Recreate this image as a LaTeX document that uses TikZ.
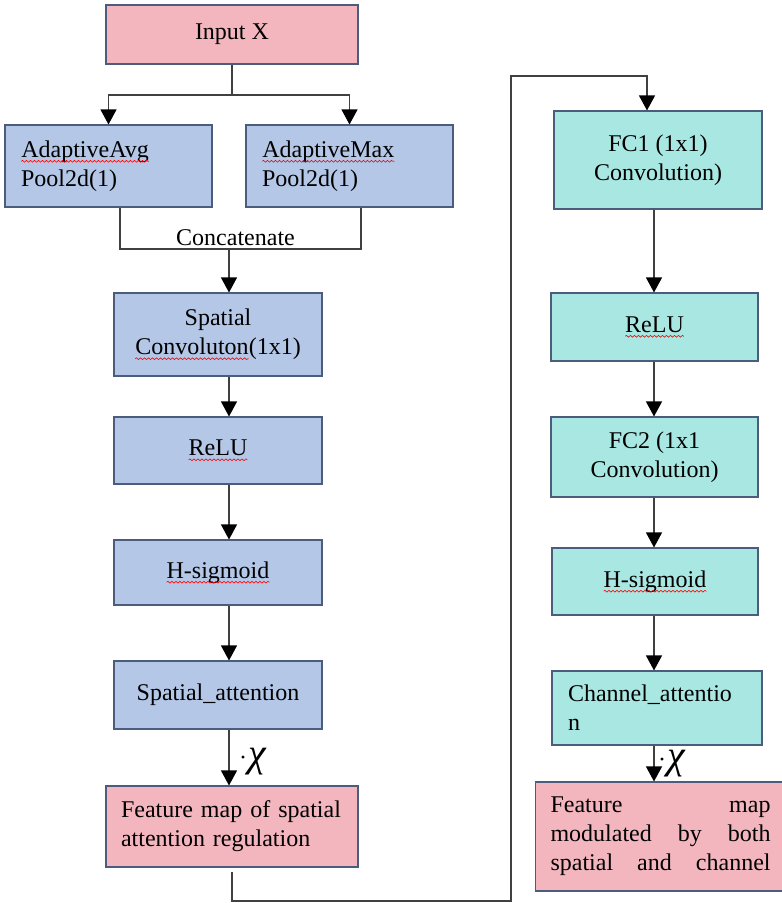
\documentclass[tikz,border=0pt]{standalone}
\usepackage{fontspec}
\setmainfont{Liberation Serif}
\usetikzlibrary{arrows.meta,decorations.pathmorphing}
\definecolor{pinkF}{HTML}{F3B6BE}
\definecolor{blueF}{HTML}{B4C7E7}
\definecolor{cyanF}{HTML}{A9E8E2}
\definecolor{bordC}{HTML}{4B5C7C}
\definecolor{lineC}{HTML}{404040}
\newcommand\sqw[1]{\tikz[baseline=(sqn.base)]{\node[inner sep=0pt,outer sep=0pt,text width=,minimum width=0pt,minimum height=0pt,align=none,draw=none,fill=none](sqn){#1};\draw[red,line width=0.6pt,decorate,decoration={snake,amplitude=0.9pt,segment length=4pt}]([yshift=-4pt]sqn.base west)--([yshift=-4pt]sqn.base east);}}
\newcommand\chisym{{\fontsize{24}{24}\selectfont\raisebox{1pt}{·}\kern1pt}{\fontsize{40}{40}\selectfont\itshape χ}}
\newcommand\jline[1]{\makebox[220pt][l]{#1}}
\begin{document}
\begin{tikzpicture}[x=1pt,y=-1pt,
  font=\fontsize{24}{29}\selectfont,
  basebox/.style={draw=bordC,line width=1.1pt,inner xsep=16pt,inner ysep=0pt,align=center},
  pbox/.style={basebox,fill=pinkF},
  bbox/.style={basebox,fill=blueF},
  cbox/.style={basebox,fill=cyanF},
  sz/.style 2 args={minimum width=#1pt,minimum height=#2pt},
  conn/.style={draw=lineC,line width=1.2pt},
  arr/.style={conn,-{Triangle[width=16pt,length=15pt,fill=black,color=black]}},
  chilab/.style={inner sep=0pt}]
\useasboundingbox (0,0) rectangle (782,903);
\clip (0,0) rectangle (782,903);
% left column
\node[pbox,sz={252}{59}] (inp) at (232,34.5) {Input X};
\node[bbox,sz={207}{82},text width=175pt,align=left] (avg) at (108.5,166) {\sqw{AdaptiveAvg}\\Pool2d(1)};
\node[bbox,sz={207}{82},text width=175pt,align=left] (max) at (349.5,166) {\sqw{AdaptiveMax}\\Pool2d(1)};
\node[bbox,sz={208}{83}] (sconv) at (218,334.5) {Spatial\\\sqw{Convoluton}(1x1)};
\node[bbox,sz={208}{67}] (relu1) at (218,450.5) {\sqw{ReLU}};
\node[bbox,sz={208}{65}] (hsig1) at (218,572.5) {\sqw{H-sigmoid}};
\node[bbox,sz={208}{68}] (satt) at (218,695) {Spatial\_attention};
\node[pbox,sz={252}{81},text width=222pt,align=left,inner xsep=15pt] (feat1) at (232,826.5) {Feature map of spatial\\attention regulation};
% right column
\node[cbox,sz={208}{98}] (fc1) at (658,160) {FC1 (1x1)\\Convolution)};
\node[cbox,sz={207}{68}] (relu2) at (654.5,327) {\sqw{ReLU}};
\node[cbox,sz={207}{80}] (fc2) at (654.5,457) {FC2 (1x1\\Convolution)};
\node[cbox,sz={206}{67}] (hsig2) at (655,581.5) {\sqw{H-sigmoid}};
\node[cbox,sz={210}{74},text width=178pt,align=left] (catt) at (657,708) {Channel\_attentio\\n};
\node[pbox,anchor=west,minimum height=109pt,text width=220pt,align=left,inner xsep=15pt] (feat2) at (535,836.5)
  {\jline{Feature\hfill map}\\\jline{modulated\hfill by\hfill both}\\\jline{spatial\hfill and\hfill channel}};
% connectors
\coordinate (split) at (232,95);
\draw[conn] (inp.south) -- (split);
\draw[arr] (split) -| (avg.north);
\draw[arr] (split) -| (max.north);
\coordinate (ca) at (120,249);
\coordinate (cb) at (361,249);
\coordinate (cm) at (229,249);
\draw[conn] (avg.south -| ca) -- (ca) -- (cb) -- (max.south -| cb);
\node[anchor=base,inner sep=0pt] (cat) at (235.5,245) {Concatenate};
\draw[arr] (cm) -- (sconv.north -| cm);
\coordinate (lx) at (229,0);
\draw[arr] (sconv.south -| lx) -- (relu1.north -| lx);
\draw[arr] (relu1.south -| lx) -- (hsig1.north -| lx);
\draw[arr] (hsig1.south -| lx) -- (satt.north -| lx);
\draw[arr] (satt.south -| lx) -- (feat1.north -| lx);
\node[chilab,anchor=base west] (chi1) at (239,766) {\chisym};
\coordinate (b0) at (232,872);
\coordinate (b1) at (232,901);
\coordinate (b2) at (511,901);
\coordinate (b3) at (511,76);
\coordinate (b4) at (647,76);
\draw[arr] (b0) -- (b1) -- (b2) -- (b3) -- (b4) -- (fc1.north -| b4);
\coordinate (rx) at (654,0);
\draw[arr] (fc1.south -| rx) -- (relu2.north -| rx);
\draw[arr] (relu2.south -| rx) -- (fc2.north -| rx);
\draw[arr] (fc2.south -| rx) -- (hsig2.north -| rx);
\draw[arr] (hsig2.south -| rx) -- (catt.north -| rx);
\draw[arr] (catt.south -| rx) -- (feat2.north -| rx);
\node[chilab,anchor=base west] (chi2) at (658,768) {\chisym};
\end{tikzpicture}
\end{document}
